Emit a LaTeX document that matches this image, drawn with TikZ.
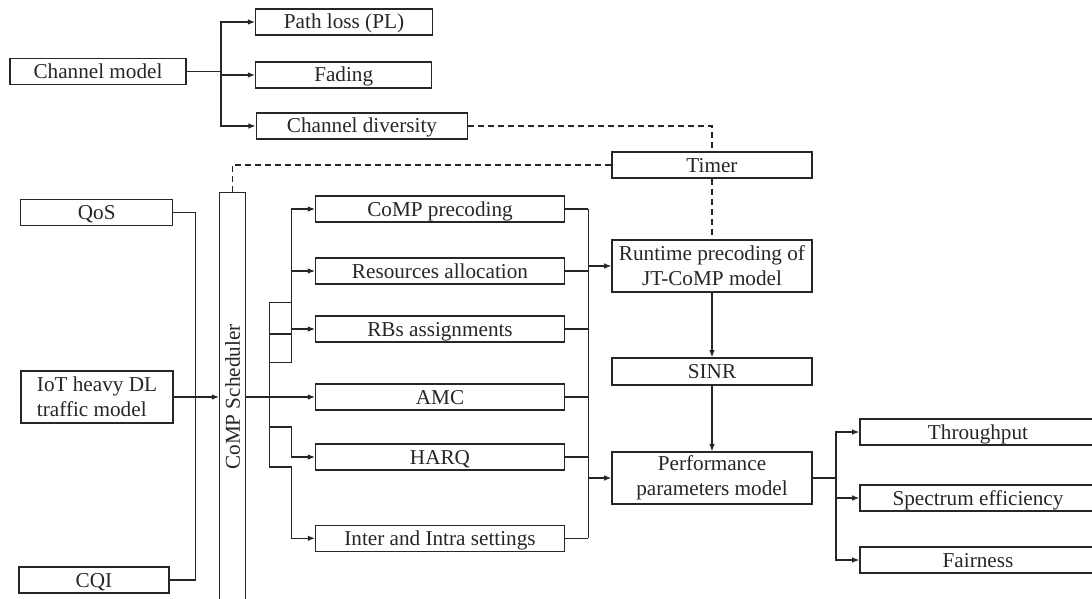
\documentclass[tikz,border=0pt]{standalone}
\usepackage{fontspec}
\setmainfont{Liberation Serif}
\usetikzlibrary{arrows.meta}

\begin{document}
\begin{tikzpicture}[x=0.5pt,y=-0.5pt,>={Latex[length=3.6pt,width=2.8pt]},
	line width=0.65pt,color=black!85,
	font=\fontsize{10.6pt}{12.5pt}\selectfont,
	mbox/.style={draw,minimum width=#1,minimum height=13pt,inner sep=0.6pt},
	mbox/.default=100pt,
	box/.style={mbox=#1,text height=9.2pt,text depth=2.2pt},
	box/.default=100pt,
	dashline/.style={dash pattern=on 3pt off 2pt}]

\useasboundingbox (0,0) rectangle (1092,599);

\node[box=88pt] (chan) at (98,71.3) {Channel model};
\node[box=88.3pt] (pl) at (344,22) {Path loss (PL)};
\node[box=88pt] (fad) at (343.7,75) {Fading};
\node[box=105.7pt] (div) at (362,126) {Channel diversity};
\node[box] (timer) at (712,165) {Timer};

\node[box=76pt] (qos) at (96.7,212.5) {QoS};
\node[mbox=76pt,minimum height=26pt,align=left] (iot) at (97,397)
	{IoT heavy DL\\traffic model};
\node[box=75pt] (cqi) at (94,580) {CQI};
\node[mbox=13pt,minimum height=204.3pt] (sched) at (232.7,397)
	{\rotatebox{90}{CoMP Scheduler}};

\node[box=124.3pt] (cp) at (440,209) {CoMP precoding};
\node[box=124.3pt] (ra) at (440,271) {Resources allocation};
\node[box=124.3pt] (rb) at (440,329) {RBs assignments};
\node[box=124.3pt] (amc) at (440,397) {AMC};
\node[box=124.3pt] (harq) at (440,457) {HARQ};
\node[box=124.3pt] (inter) at (440,538.3) {Inter and Intra settings};

\node[mbox,minimum height=26pt,align=center] (runtime) at (712,266)
	{Runtime precoding of\\JT-CoMP model};
\node[box,minimum height=13.5pt] (sinr) at (712,371.5) {SINR};
\node[mbox,minimum height=26pt,align=center] (perf) at (712,478)
	{Performance\\parameters model};

\node[box=118pt] (thr) at (978,432) {Throughput};
\node[box=118pt] (spec) at (978,498) {Spectrum efficiency};
\node[box=118pt] (fair) at (978,560) {Fairness};

\coordinate (cj) at (221,71.3);
\draw (chan) -- (cj);
\foreach \n in {pl,fad,div}{
	\draw[->] (cj) |- (\n.west);
}

\draw[dashline] (div) -| (timer);
\draw[dashline] (timer) -| (sched);
\draw[dashline] (timer) -- (runtime);

\coordinate (qj) at (195.3,397);
\draw (qos) -| (qj) |- (cqi);
\draw[->] (iot) -- (sched);

\coordinate (tt) at (269.3,302.7);
\coordinate (tb) at (269.3,467);
\coordinate (ub) at (291.7,362.7);
\draw[->] (sched) -- (amc);
\draw (tt) -- (tb);
\foreach \y in {302.7,334,362.7}{
	\draw (269.3,\y) -- (291.7,\y);
}
\foreach \n in {cp,ra,rb}{
	\draw[->] (ub) |- (\n.west);
}
\draw[->] (269.3,427) -- (291.7,427) |- (harq);
\draw[->] (tb) -- (291.7,467) |- (inter);

\coordinate (cx) at (588.3,0);
\foreach \n in {cp,ra,rb,amc,harq,inter}{
	\draw (\n.east) -- (\n.east -| cx);
}
\draw (cx |- cp.east) -- (cx |- inter.east);
\draw[->] (cx |- runtime) -- (runtime);
\draw[->] (cx |- perf) -- (perf);
\draw[->] (runtime) -- (sinr);
\draw[->] (sinr) -- (perf);

\coordinate (pj) at (836,478);
\draw (perf) -- (pj);
\foreach \n in {thr,spec,fair}{
	\draw[->] (pj) |- (\n.west);
}

\end{tikzpicture}
\end{document}
